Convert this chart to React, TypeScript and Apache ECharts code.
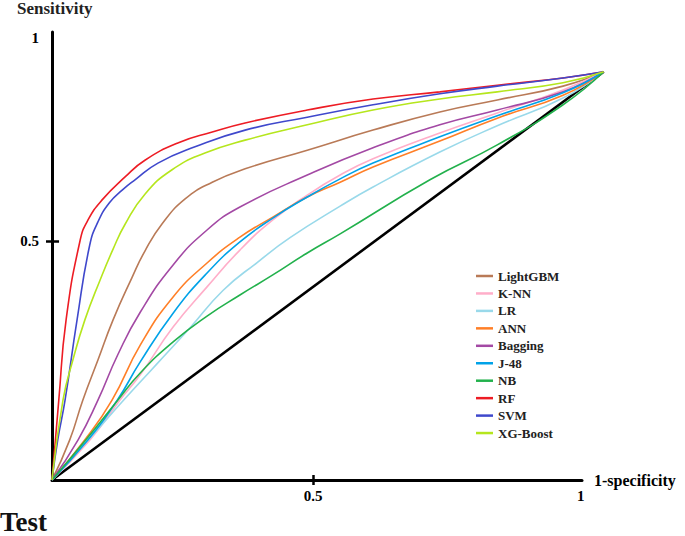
import React, { useEffect, useRef } from "react";
import * as echarts from "echarts";

const seriesNames = ["LightGBM", "K-NN", "LR", "ANN", "Bagging", "J-48", "NB", "RF", "SVM", "XG-Boost"];
const seriesColors = ["#b97a57", "#ffaec9", "#99d9ea", "#ff7f27", "#a349a4", "#00a2e8", "#22b14c", "#ed1c24", "#3f48cc", "#b5e61d"];

const lightGBM = [[0,0],[0.034,0.084],[0.059,0.167],[0.088,0.251],[0.117,0.335],[0.153,0.423],[0.178,0.479],[0.211,0.536],[0.255,0.588],[0.307,0.623],[0.370,0.651],[0.489,0.690],[0.615,0.732],[0.743,0.770],[0.853,0.795],[0.979,0.824],[1.057,0.854]];
const knn = [[0,0],[0.073,0.084],[0.130,0.167],[0.169,0.220],[0.232,0.320],[0.297,0.404],[0.360,0.481],[0.423,0.544],[0.489,0.596],[0.552,0.638],[0.615,0.672],[0.743,0.726],[0.853,0.768],[0.979,0.816],[1.057,0.854]];
const lr = [[0,0],[0.073,0.088],[0.134,0.163],[0.169,0.205],[0.201,0.243],[0.264,0.318],[0.328,0.397],[0.393,0.455],[0.456,0.507],[0.552,0.573],[0.615,0.613],[0.743,0.686],[0.853,0.741],[0.979,0.799],[1.057,0.854]];
const ann = [[0,0],[0.063,0.084],[0.115,0.167],[0.169,0.282],[0.232,0.383],[0.297,0.454],[0.360,0.508],[0.423,0.550],[0.489,0.592],[0.552,0.623],[0.615,0.655],[0.743,0.709],[0.853,0.757],[0.979,0.805],[1.057,0.854]];
const bagging = [[0,0],[0.050,0.084],[0.088,0.167],[0.126,0.262],[0.169,0.351],[0.232,0.450],[0.297,0.523],[0.360,0.571],[0.489,0.638],[0.615,0.695],[0.743,0.743],[0.853,0.774],[0.979,0.812],[1.057,0.854]];
const j48 = [[0,0],[0.069,0.084],[0.125,0.167],[0.169,0.247],[0.232,0.349],[0.297,0.433],[0.360,0.498],[0.423,0.548],[0.489,0.592],[0.552,0.630],[0.615,0.663],[0.743,0.718],[0.853,0.762],[0.979,0.810],[1.057,0.854]];
const nb = [[0,0],[0.065,0.084],[0.126,0.167],[0.169,0.224],[0.232,0.289],[0.297,0.343],[0.360,0.387],[0.423,0.429],[0.489,0.475],[0.552,0.515],[0.724,0.628],[0.853,0.701],[0.979,0.785],[1.057,0.854]];
const rf = [[0,0],[0.013,0.167],[0.027,0.335],[0.054,0.502],[0.069,0.544],[0.096,0.586],[0.140,0.634],[0.178,0.669],[0.241,0.705],[0.307,0.728],[0.370,0.747],[0.489,0.774],[0.615,0.797],[0.743,0.812],[0.853,0.826],[0.979,0.841],[1.057,0.854]];
const svm = [[0,0],[0.011,0.084],[0.025,0.167],[0.048,0.335],[0.072,0.490],[0.088,0.540],[0.110,0.580],[0.135,0.607],[0.159,0.628],[0.203,0.663],[0.274,0.697],[0.370,0.732],[0.489,0.759],[0.615,0.785],[0.743,0.808],[0.853,0.824],[0.979,0.841],[1.057,0.854]];
const xgBoost = [[0,0],[0.021,0.167],[0.040,0.251],[0.063,0.335],[0.092,0.418],[0.117,0.483],[0.140,0.535],[0.178,0.598],[0.230,0.649],[0.293,0.684],[0.370,0.711],[0.489,0.743],[0.615,0.774],[0.743,0.797],[0.853,0.812],[0.979,0.831],[1.057,0.854]];
const chanceLine = [[0,0],[1.057,0.854]];

const seriesData = [lightGBM, knn, lr, ann, bagging, j48, nb, rf, svm, xgBoost];

// visible axes (grid 0)
const xMax = 530 / 522;
const yMax = 448 / 478;
const xLabelValues = [0.5, 1.013];
const xLabelTexts = ["0.5", "1"];
const yLabelValues = [0.5, 0.925];
const yLabelTexts = ["0.5", "1"];
const tickValue = 0.5;

// full-canvas plotting frame (grid 1), same scale as grid 0
const fxMin = -52 / 522;
const fxMax = 633 / 522;
const fyMin = -56 / 478;
const fyMax = 480 / 478;

const FONT = "'Liberation Serif', 'Times New Roman', serif";

export default function App() {
  const ref = useRef<HTMLDivElement>(null);
  useEffect(() => {
    if (!ref.current) return;
    const chart = echarts.init(ref.current, undefined, { renderer: "svg" });
    const labelStyle = { fontFamily: FONT, fontWeight: "bold", fontSize: 15, color: "#000" };
    const series: any[] = [
      {
        name: "chance",
        type: "line",
        xAxisIndex: 1,
        yAxisIndex: 1,
        data: chanceLine,
        showSymbol: false,
        silent: true,
        lineStyle: { color: "#000", width: 2.6 },
        markLine: {
          silent: true,
          symbol: "none",
          label: { show: false },
          lineStyle: { color: "#000", width: 2.5, type: "solid" },
          data: [
            [{ coord: [tickValue, -0.0105] }, { coord: [tickValue, 0.0105] }],
            [{ coord: [-0.0115, tickValue] }, { coord: [0.0135, tickValue] }],
          ],
        },
      },
      ...seriesNames.map((name, i) => ({
        name,
        type: "line",
        xAxisIndex: 1,
        yAxisIndex: 1,
        data: seriesData[i],
        smooth: 0.5,
        showSymbol: false,
        color: seriesColors[i],
        lineStyle: { color: seriesColors[i], width: 1.6 },
      })),
    ];
    chart.setOption({
      animation: false,
      backgroundColor: "#fff",
      grid: [
        { left: 52, right: 103, top: 32, bottom: 56 },
        { left: 0, right: 0, top: 0, bottom: 0 },
      ],
      xAxis: [
        {
          type: "value",
          gridIndex: 0,
          min: 0,
          max: xMax,
          name: "1-specificity",
          nameLocation: "end",
          nameGap: 12,
          nameTextStyle: { fontFamily: FONT, fontWeight: "bold", fontSize: 16, color: "#000" },
          axisLine: { show: true, lineStyle: { color: "#000", width: 3 } },
          axisTick: { show: false },
          splitLine: { show: false },
          axisLabel: {
            ...labelStyle,
            margin: 8,
            customValues: xLabelValues,
            formatter: (v: number) => xLabelTexts[xLabelValues.findIndex((c) => Math.abs(c - v) < 1e-6)] ?? "",
          },
        },
        { type: "value", gridIndex: 1, min: fxMin, max: fxMax, show: false, splitLine: { show: false } },
      ],
      yAxis: [
        {
          type: "value",
          gridIndex: 0,
          min: 0,
          max: yMax,
          axisLine: { show: true, lineStyle: { color: "#000", width: 3 } },
          axisTick: { show: false },
          splitLine: { show: false },
          axisLabel: {
            ...labelStyle,
            margin: 13,
            customValues: yLabelValues,
            formatter: (v: number) => yLabelTexts[yLabelValues.findIndex((c) => Math.abs(c - v) < 1e-6)] ?? "",
          },
        },
        { type: "value", gridIndex: 1, min: fyMin, max: fyMax, show: false, splitLine: { show: false } },
      ],
      legend: {
        data: seriesNames,
        orient: "vertical",
        left: 476,
        top: 269,
        padding: 0,
        icon: "rect",
        itemWidth: 17,
        itemHeight: 2.5,
        itemGap: 3.45,
        textStyle: { fontFamily: FONT, fontWeight: "bold", fontSize: 13, color: "#222", lineHeight: 14 },
      },
      graphic: [
        {
          type: "text",
          left: 17,
          top: 0,
          style: { text: "Sensitivity", font: `bold 17px ${FONT}`, fill: "#222" },
        },
        {
          type: "text",
          left: 0,
          top: 508,
          style: { text: "Test", font: `bold 27px ${FONT}`, fill: "#111" },
        },
      ],
      series,
    });
    return () => chart.dispose();
  }, []);
  return <div ref={ref} style={{ position: "absolute", left: 0, top: 0, width: 685, height: 536 }} />;
}
